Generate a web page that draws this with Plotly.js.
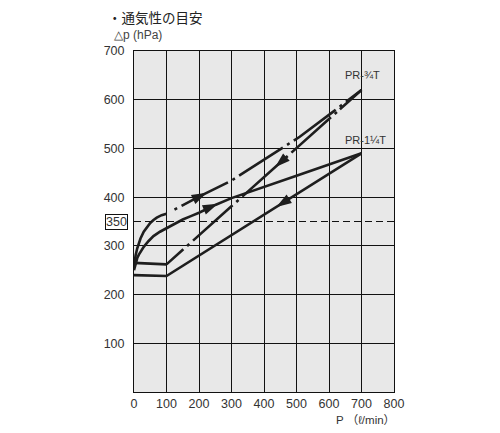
<!DOCTYPE html>
<html>
<head>
<meta charset="utf-8">
<script src="https://cdn.plot.ly/plotly-3.0.1.min.js"></script>
<style>html,body{margin:0;padding:0;background:#fff;}#chart{width:500px;height:433px;}</style>
</head>
<body>
<div id="chart"></div>
<script>
// ---- data ----
const xTickVals = [0, 100, 200, 300, 400, 500, 600, 700, 800];
const yTickVals = [100, 200, 300, 400, 500, 600, 700];
const refPressure = 350;

// PR-3/4T, flow increasing: curved start (solid) then dash-dot line
const pr34UpCurveX = [0, 2, 5, 10, 15, 20, 30, 40, 50, 60, 70, 85, 100];
const pr34UpCurveY = [255, 268, 281, 295, 306, 315, 329, 339, 347, 353, 358, 363, 366];
const pr34UpLineX = [100, 130, 200, 300, 400, 470, 510, 610, 700];
const pr34UpLineY = [366, 377, 401, 434, 477, 507, 524, 574, 620];
// PR-3/4T, flow decreasing
const pr34DownX = [700, 100];
const pr34DownY = [620, 262];
const pr34FlatX = [100, 0];
const pr34FlatY = [262, 265];

// PR-1 1/4T, flow increasing
const pr114UpX = [0, 5, 10, 15, 22, 30, 45, 60, 80, 100, 125, 150, 175, 200, 250, 300, 500, 700];
const pr114UpY = [250, 265, 275, 282, 290, 298, 310, 320, 329, 336, 346, 354, 361, 368, 384, 398, 444, 490];
// PR-1 1/4T, flow decreasing
const pr114DownX = [700, 100, 0];
const pr114DownY = [490, 238, 240];

// arrow positions along the curves (x of the arrow tip)
const arrowPr34Up = 224;
const arrowPr114Up = 258;
const arrowPr34Down = 434;
const arrowPr114Down = 438;

// ---- helpers ----
const plotW = 260, plotH = 341, xSpan = 800, ySpan = 700;
function interp(xs, ys, x) {
  for (let i = 0; i < xs.length - 1; i++) {
    const a = xs[i], b = xs[i + 1];
    if ((x - a) * (x - b) <= 0) {
      const t = (x - a) / (b - a);
      return ys[i] + t * (ys[i + 1] - ys[i]);
    }
  }
  return ys[ys.length - 1];
}
const ink = '#1e1e1e';
const lw = 2.6;
function arrowTrace(xs, ys, xTip, dir) {
  const xFrom = xTip - dir * 10;
  const yTip = interp(xs, ys, xTip), yFrom = interp(xs, ys, xFrom);
  const dxp = (xTip - xFrom) * plotW / xSpan;
  const dyp = (yTip - yFrom) * plotH / ySpan;
  const ang = Math.atan2(dxp, dyp) * 180 / Math.PI;
  return {
    x: [xTip], y: [yTip],
    mode: 'markers', type: 'scatter', hoverinfo: 'skip',
    marker: {symbol: 'arrow', size: 16, angle: ang, angleref: 'up', color: ink, line: {width: 0}}
  };
}
function line(xs, ys, dash) {
  return {x: xs, y: ys, mode: 'lines', type: 'scatter', hoverinfo: 'skip',
    line: {color: ink, width: lw, dash: dash || 'solid', shape: 'linear'}};
}

const dashUp = '0px,9px,3px,5px,52px,5px,3px,5px,52px,5px,3px,5px,52px,5px,3px,5px,52px,5px,3px,5px,200px';
const dashDown = '29px,4px,3px,5px,53px,5px,3px,5px,53px,5px,3px,5px,53px,5px,3px,5px,200px';

const traces = [
  line(pr34UpCurveX, pr34UpCurveY),
  line(pr34UpLineX, pr34UpLineY, dashUp),
  line(pr34DownX, pr34DownY, dashDown),
  line(pr34FlatX, pr34FlatY),
  line(pr114UpX, pr114UpY),
  line(pr114DownX, pr114DownY),
  arrowTrace(pr34UpLineX, pr34UpLineY, arrowPr34Up, 1),
  arrowTrace(pr114UpX, pr114UpY, arrowPr114Up, 1),
  arrowTrace(pr34DownX, pr34DownY, arrowPr34Down, -1),
  arrowTrace(pr114DownX, pr114DownY, arrowPr114Down, -1)
];

const numFont = {family: 'Liberation Sans, Arial, sans-serif', size: 12.5, color: '#333'};
const layout = {
  width: 500, height: 433,
  margin: {l: 134, r: 106, t: 51, b: 41},
  paper_bgcolor: '#ffffff',
  plot_bgcolor: '#e8e8e8',
  showlegend: false,
  hovermode: false,
  xaxis: {
    range: [0, 800], tickvals: xTickVals, ticktext: xTickVals.map(String),
    showgrid: true, gridcolor: '#111', gridwidth: 1,
    showline: true, linecolor: '#111', linewidth: 1, mirror: true,
    zeroline: false, ticks: '', tickfont: numFont, fixedrange: true
  },
  yaxis: {
    range: [0, 700], tickvals: yTickVals, ticktext: yTickVals.map(String),
    showgrid: true, gridcolor: '#111', gridwidth: 1,
    showline: true, linecolor: '#111', linewidth: 1, mirror: true,
    zeroline: false, ticks: '', tickfont: numFont, ticklabelstandoff: 6, fixedrange: true
  },
  shapes: [{
    type: 'line', xref: 'paper', x0: 0, x1: 1, yref: 'y', y0: refPressure, y1: refPressure,
    line: {color: '#111', width: 1, dash: '7px,4px'}
  }],
  annotations: [
    {text: '・通気性の目安', xref: 'paper', yref: 'paper', x: -0.108, y: 1.1, xanchor: 'left', yanchor: 'middle',
     showarrow: false, font: {family: 'Noto Sans CJK JP, sans-serif', size: 13.5, color: '#222'}},
    {text: '△p (hPa)', xref: 'paper', yref: 'paper', x: -0.085, y: 1.047, xanchor: 'left', yanchor: 'middle',
     showarrow: false, font: {family: 'Liberation Sans, Arial, sans-serif', size: 12, color: '#444'}},
    {text: 'P （ℓ/min）', xref: 'paper', yref: 'paper', x: 1.01, y: -0.082, xanchor: 'right', yanchor: 'middle',
     showarrow: false, font: {family: 'Liberation Sans, Noto Sans CJK JP, sans-serif', size: 11.5, color: '#333'}},
    {text: String(refPressure), xref: 'paper', yref: 'y', x: -0.024, y: refPressure, xanchor: 'right', yanchor: 'middle',
     showarrow: false, bordercolor: '#111', borderwidth: 1, borderpad: 0, font: numFont},
    {text: 'PR-¾T', xref: 'paper', yref: 'paper', x: 0.804, y: 0.93, xanchor: 'left', yanchor: 'middle',
     showarrow: false, font: {family: 'Liberation Sans, Arial, sans-serif', size: 11, color: '#333'}},
    {text: 'PR-1¼T', xref: 'paper', yref: 'paper', x: 0.804, y: 0.739, xanchor: 'left', yanchor: 'middle',
     showarrow: false, font: {family: 'Liberation Sans, Arial, sans-serif', size: 11, color: '#333'}}
  ]
};

Plotly.newPlot('chart', traces, layout, {displayModeBar: false, staticPlot: true});
</script>
</body>
</html>
